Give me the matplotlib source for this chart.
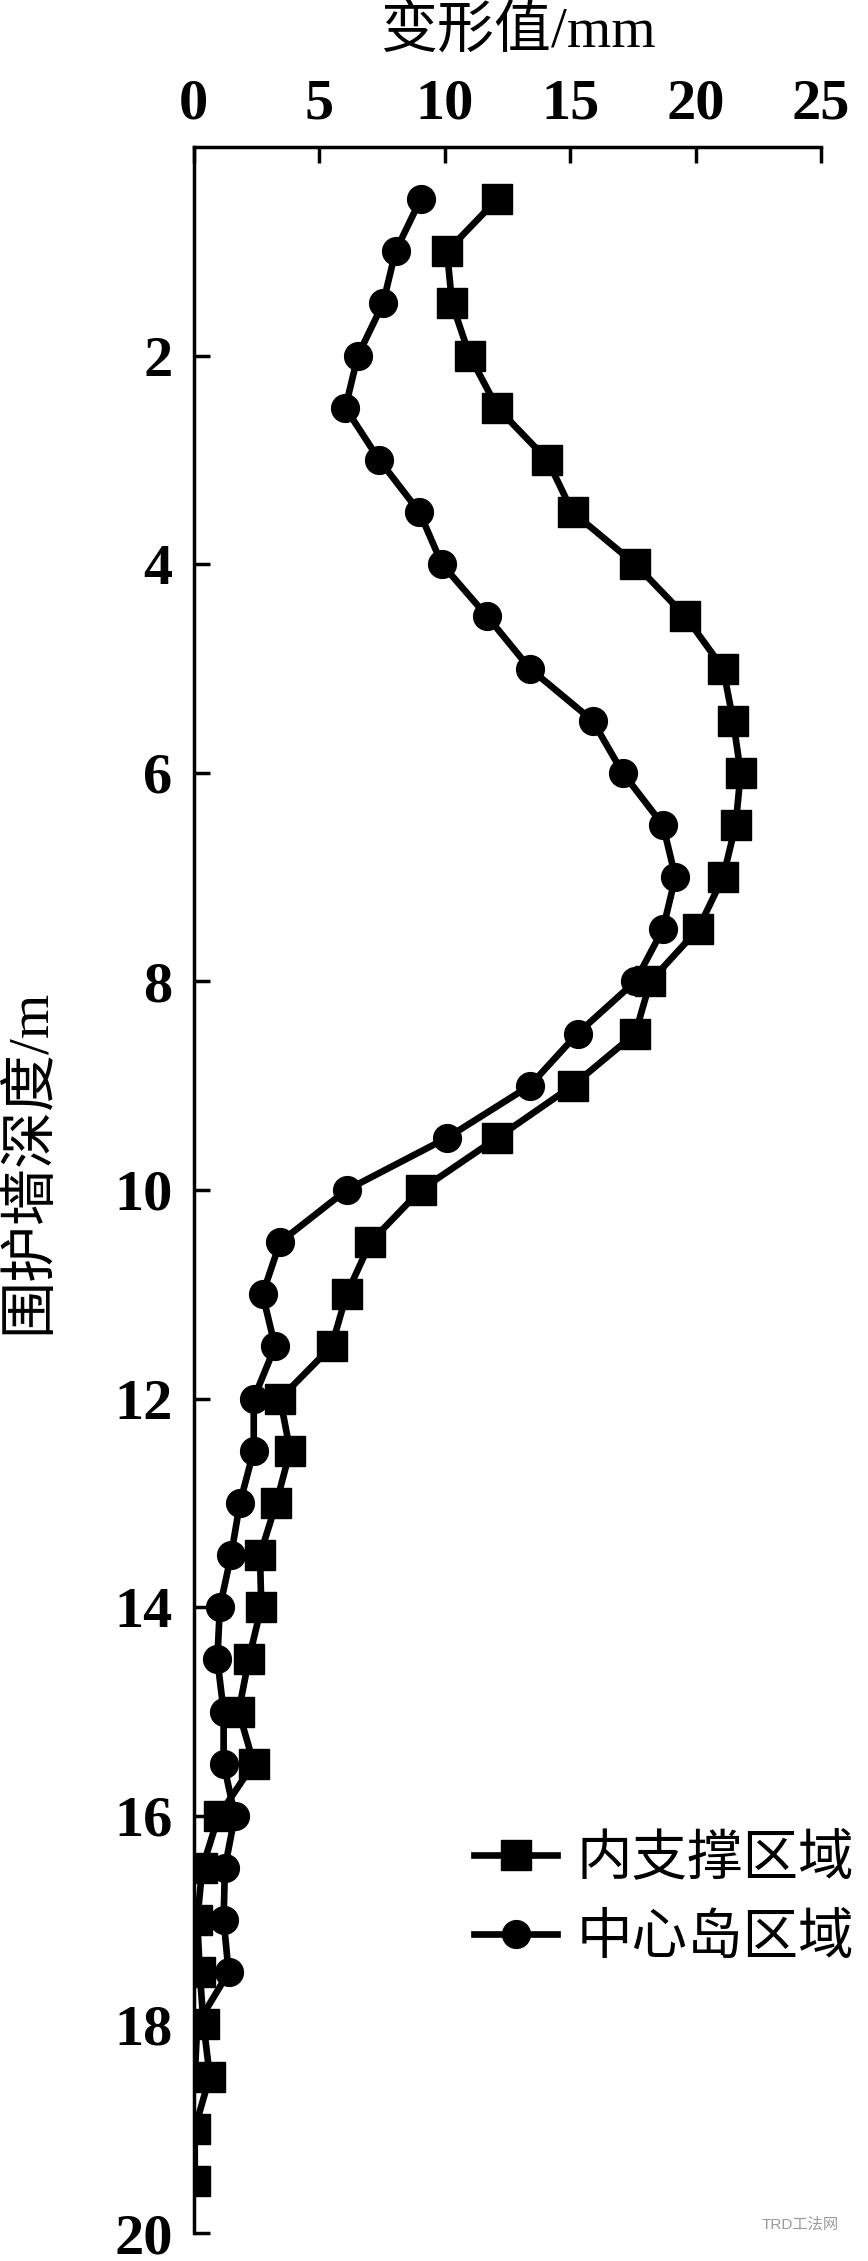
import matplotlib
matplotlib.use("Agg")
import matplotlib.pyplot as plt
from matplotlib.lines import Line2D

# ---- data ----
depth_sq = [0.5, 1.0, 1.5, 2.0, 2.5, 3.0, 3.5, 4.0, 4.5, 5.0, 5.5, 6.0, 6.5, 7.0, 7.5,
            8.0, 8.5, 9.0, 9.5, 10.0, 10.5, 11.0, 11.5, 12.0, 12.5, 13.0, 13.5, 14.0,
            14.5, 15.0, 15.5, 16.0, 16.5, 17.0, 17.5, 18.0, 18.5, 19.0, 19.5]
disp_sq = [12.1, 10.1, 10.3, 11.0, 12.1, 14.1, 15.1, 17.6, 19.6, 21.1, 21.5, 21.8, 21.6,
           21.1, 20.1, 18.2, 17.6, 15.1, 12.1, 9.05, 7.05, 6.1, 5.5, 3.45, 3.85, 3.3,
           2.65, 2.7, 2.2, 1.8, 2.4, 1.0, 0.35, 0.15, 0.25, 0.4, 0.65, 0.05, 0.05]

depth_ci = [0.5, 1.0, 1.5, 2.0, 2.5, 3.0, 3.5, 4.0, 4.5, 5.0, 5.5, 6.0, 6.5, 7.0, 7.5,
            8.0, 8.5, 9.0, 9.5, 10.0, 10.5, 11.0, 11.5, 12.0, 12.5, 13.0, 13.5, 14.0,
            14.5, 15.0, 15.5, 16.0, 16.5, 17.0, 17.5, 18.0, 18.5]
disp_ci = [9.05, 8.05, 7.55, 6.55, 6.05, 7.4, 9.0, 9.9, 11.7, 13.4, 15.9, 17.1, 18.7,
           19.2, 18.7, 17.6, 15.3, 13.4, 10.1, 6.1, 3.45, 2.75, 3.25, 2.4, 2.4, 1.85,
           1.5, 1.05, 0.95, 1.2, 1.2, 1.65, 1.25, 1.2, 1.4, 0.15, 0.05]

series_labels = ["内支撑区域", "中心岛区域"]
x_ticks = [0, 5, 10, 15, 20, 25]
y_ticks = [2, 4, 6, 8, 10, 12, 14, 16, 18, 20]
x_label = "变形值/mm"
y_label = "围护墙深度/m"

FAM = ["Liberation Serif", "Noto Sans CJK SC", "DejaVu Sans"]
plt.rcParams["font.family"] = FAM

W, H, DPI = 868, 2261, 100
fig = plt.figure(figsize=(W / DPI, H / DPI), dpi=DPI)
left, right, top, bottom = 193.5, 821, 147, 2233
ax = fig.add_axes([left / W, 1 - bottom / H, (right - left) / W, (bottom - top) / H])

lw = 4.8
ms_sq, ms_ci = 21.5, 20
ax.plot(disp_sq, depth_sq, color="black", lw=lw, marker="s", ms=ms_sq, mfc="black",
        mec="black", label=series_labels[0], solid_joinstyle="round")
ax.plot(disp_ci, depth_ci, color="black", lw=lw, marker="o", ms=ms_ci, mfc="black",
        mec="black", label=series_labels[1], solid_joinstyle="round")

ax.set_xlim(0, 25)
ax.set_ylim(20, 0)
ax.xaxis.tick_top()
ax.xaxis.set_label_position("top")
ax.set_xticks(x_ticks)
ax.set_yticks(y_ticks)
ax.set_xticklabels([str(v) for v in x_ticks])
ax.set_yticklabels([str(v) for v in y_ticks])

for s in ["right", "bottom"]:
    ax.spines[s].set_visible(False)
for s in ["left", "top"]:
    ax.spines[s].set_linewidth(2.5)

ax.tick_params(axis="both", direction="in", length=11.5, width=2.5, labelsize=42,
               colors="black")
ax.tick_params(axis="x", pad=12)
ax.tick_params(axis="y", pad=15)
for t in ax.get_xticklabels() + ax.get_yticklabels():
    t.set_fontfamily(FAM)
    t.set_fontweight("bold")

fig.text(518 / W, 1 - 32 / H, x_label, fontsize=41, ha="center", va="center",
         family=FAM)
fig.text(30 / W, 1 - 1161 / H, y_label, fontsize=41, ha="center", va="center",
         rotation=90, family=FAM)

handles = [Line2D([], [], color="black", lw=lw, marker="s", ms=ms_sq),
           Line2D([], [], color="black", lw=lw, marker="o", ms=ms_ci)]
leg = ax.legend(handles, series_labels, loc="upper left",
                bbox_to_anchor=((474 - left) / (right - left), (bottom - 1834) / (bottom - top)),
                frameon=False, handlelength=1.5, handletextpad=0.35,
                labelspacing=0.5, borderaxespad=0, borderpad=0,
                prop={"family": FAM, "size": 40})

fig.text(800 / W, 1 - 2224 / H, "TRD工法网", fontsize=11, color="#9a9a9a",
         ha="center", va="center", family=["Liberation Sans", "Noto Sans CJK SC"])

fig.savefig("out.png", dpi=DPI)
